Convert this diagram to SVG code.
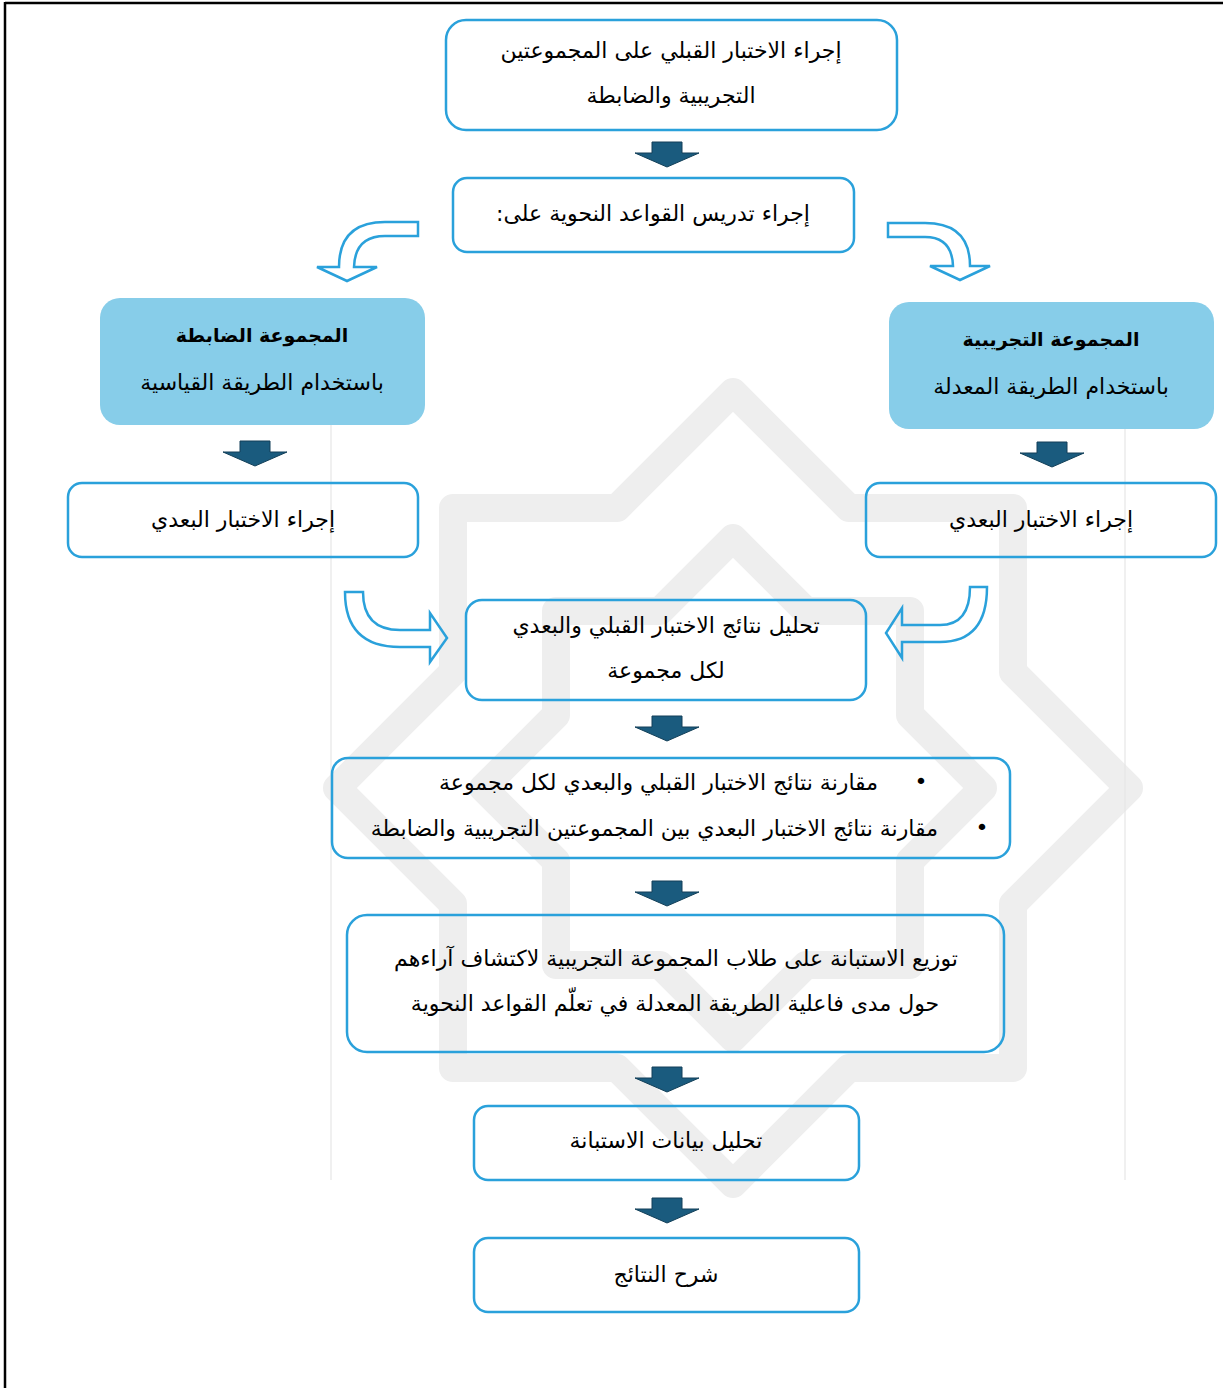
<svg xmlns="http://www.w3.org/2000/svg" width="1223" height="1388" viewBox="0 0 1223 1388">
<defs>
<style>
.box{fill:none;stroke:#2aa1db;stroke-width:2.5}
.gbox{fill:#87cde9;stroke:none}
.t{font-family:"DejaVu Sans",sans-serif;font-size:22px;fill:#000;text-anchor:middle}
.b{font-weight:bold;font-size:19px}
.down{fill:#1a5b7e;stroke:#123f58;stroke-width:1}
.curve{fill:none;stroke:#2aa1db;stroke-width:2.5;stroke-linejoin:miter}
.wm{fill:none;stroke:#eeeeee;stroke-width:28;stroke-linejoin:round}
</style>
</defs>
<rect x="0" y="0" width="1223" height="1388" fill="#ffffff"/>
<g id="watermark">
<polygon class="wm" points="733,392 849,508 1013,508 1013,672 1129,788 1013,904 1013,1068 849,1068 733,1184 617,1068 453,1068 453,904 337,788 453,672 453,508 617,508"/>
<polygon class="wm" points="733,538 806,611 910,611 910,715 983,788 910,861 910,965 806,965 733,1038 660,965 556,965 556,861 483,788 556,715 556,611 660,611"/>
<line x1="331" y1="420" x2="331" y2="1180" stroke="#e6e6e6" stroke-width="1.2"/>
<line x1="1125" y1="420" x2="1125" y2="1180" stroke="#e6e6e6" stroke-width="1.2"/>
</g>
<g id="frame">
<line x1="5" y1="3" x2="1223" y2="3" stroke="#000" stroke-width="2.5"/>
<line x1="5" y1="2" x2="5" y2="1388" stroke="#000" stroke-width="2.5"/>
</g>
<g id="connectors">
<path class="down" d="M652,142 H682 V153 H699 L667,167 L635,153 H652 Z"/>
<path class="down" d="M240,441 H270 V452 H287 L255,466 L223,452 H240 Z"/>
<path class="down" d="M1037,442 H1067 V453 H1084 L1052,467 L1020,453 H1037 Z"/>
<path class="down" d="M652,716 H682 V727 H699 L667,741 L635,727 H652 Z"/>
<path class="down" d="M652,881 H682 V892 H699 L667,906 L635,892 H652 Z"/>
<path class="down" d="M652,1067 H682 V1078 H699 L667,1092 L635,1078 H652 Z"/>
<path class="down" d="M652,1198 H682 V1209 H699 L667,1223 L635,1209 H652 Z"/>
<path class="curve" d="M418,222 H385 Q339,222 339,267 H317 L347,281 L377,267 H354 Q355,236 385,236 H418 Z"/>
<path class="curve" d="M888,223 H925 Q970,223 970,266 H990 L960,280 L930,266 H953 Q952,237 925,237 H888 Z"/>
<path class="curve" d="M345,592 H363 Q363,630 400,630 H430 V613 L447,638 L430,662 V647 H400 Q345,647 345,592 Z"/>
<path class="curve" d="M987,587 Q987,642 940,642 H902 V658 L886,633 L902,608 V625 H940 Q970,625 970,587 Z"/>
</g>
<g id="n1">
<rect class="box" x="446" y="20" width="451" height="110" rx="20"/>
<text class="t" x="671" y="58">إجراء الاختبار القبلي على المجموعتين</text>
<text class="t" x="671" y="103">التجريبية والضابطة</text>
</g>
<g id="n2">
<rect class="box" x="453" y="178" width="401" height="74" rx="14"/>
<text class="t" x="653" y="221" direction="rtl">إجراء تدريس القواعد النحوية على:</text>
</g>
<g id="n3">
<rect class="gbox" x="100" y="298" width="325" height="127" rx="20"/>
<text class="t b" x="262" y="342">المجموعة الضابطة</text>
<text class="t" x="262" y="390">باستخدام الطريقة القياسية</text>
</g>
<g id="n4">
<rect class="gbox" x="889" y="302" width="325" height="127" rx="20"/>
<text class="t b" x="1051" y="346">المجموعة التجريبية</text>
<text class="t" x="1051" y="394">باستخدام الطريقة المعدلة</text>
</g>
<g id="n5">
<rect class="box" x="68" y="483" width="350" height="74" rx="14"/>
<text class="t" x="243" y="527">إجراء الاختبار البعدي</text>
</g>
<g id="n6">
<rect class="box" x="866" y="483" width="350" height="74" rx="14"/>
<text class="t" x="1041" y="527">إجراء الاختبار البعدي</text>
</g>
<g id="n7">
<rect class="box" x="466" y="600" width="400" height="100" rx="16"/>
<text class="t" x="666" y="633">تحليل نتائج الاختبار القبلي والبعدي</text>
<text class="t" x="666" y="678">لكل مجموعة</text>
</g>
<g id="n8">
<rect class="box" x="332" y="758" width="678" height="100" rx="16"/>
<text class="t" x="921" y="789">•</text>
<text class="t" x="878" y="790" style="text-anchor:end">مقارنة نتائج الاختبار القبلي والبعدي لكل مجموعة</text>
<text class="t" x="982" y="835">•</text>
<text class="t" x="938" y="836" style="text-anchor:end">مقارنة نتائج الاختبار البعدي بين المجموعتين التجريبية والضابطة</text>
</g>
<g id="n9">
<rect class="box" x="347" y="915" width="657" height="137" rx="20"/>
<text class="t" x="676" y="966">توزيع الاستبانة على طلاب المجموعة التجريبية لاكتشاف آراءهم</text>
<text class="t" x="675" y="1011">حول مدى فاعلية الطريقة المعدلة في تعلّم القواعد النحوية</text>
</g>
<g id="n10">
<rect class="box" x="474" y="1106" width="385" height="74" rx="14"/>
<text class="t" x="666" y="1148">تحليل بيانات الاستبانة</text>
</g>
<g id="n11">
<rect class="box" x="474" y="1238" width="385" height="74" rx="14"/>
<text class="t" x="666" y="1282">شرح النتائج</text>
</g>
</svg>
